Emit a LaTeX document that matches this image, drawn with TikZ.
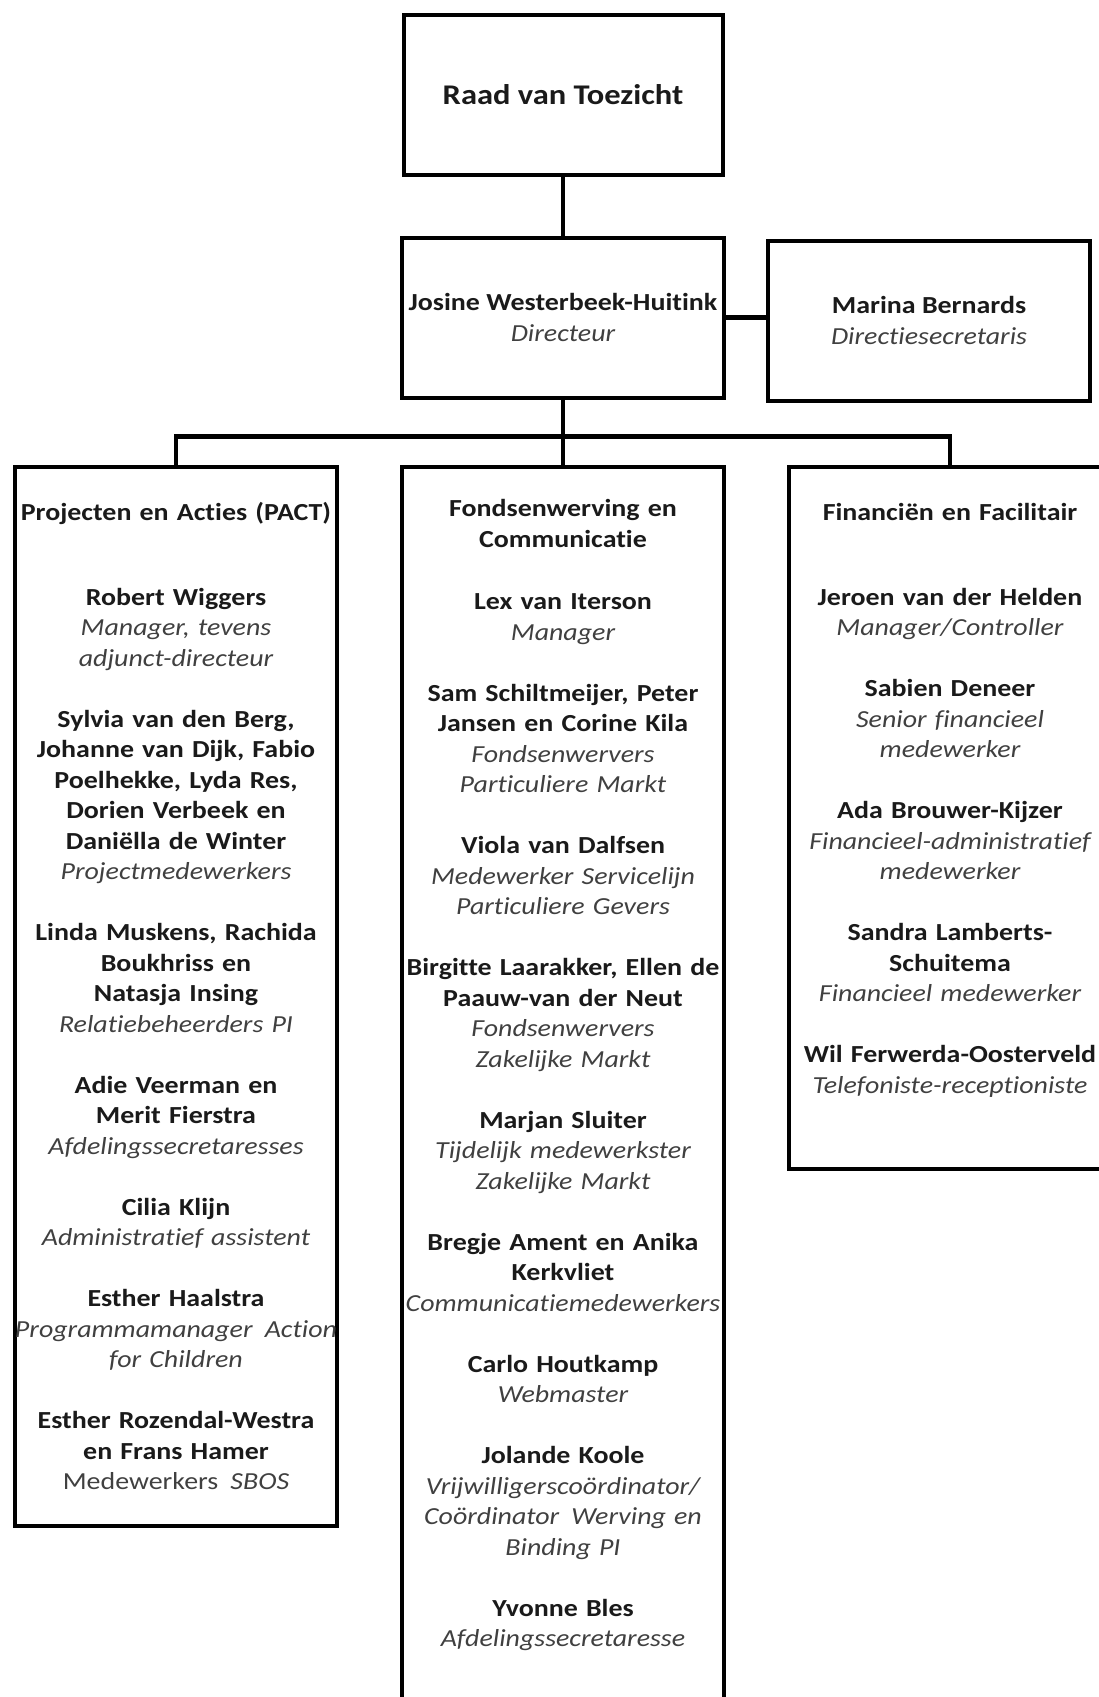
\documentclass[tikz,border=0pt]{standalone}
\usepackage{fontspec}
\setmainfont{Carlito}[FakeStretch=1.14, Ligatures=NoCommon]
\usetikzlibrary{positioning}
\definecolor{namegray}{HTML}{1A1A1A}
\definecolor{rolegray}{HTML}{404040}
\newcommand{\prole}[1]{{\normalfont\itshape\color{rolegray}#1}}

\begin{document}
\begin{tikzpicture}[x=1pt, y=1pt,
        every node/.style={anchor=north, text=namegray,
            font=\fontsize{24.5}{30.5}\selectfont\bfseries},
        box/.style={draw=black, line width=4pt, inner sep=0pt, minimum width=322pt, align=center},
        dept/.style={box, text width=338pt, inner xsep=-8pt, text height=54pt},
        edge from parent/.style={draw=black, line width=4.5pt},
        level 1/.style={level distance=140.5pt},
        level 2/.style={sibling distance=387pt, level distance=147pt,
            edge from parent path={(\tikzparentnode.south) -- +(0,-37) -| (\tikzchildnode.north)}},
    ]
    \useasboundingbox (0,0) rectangle (1099,-1697);
    \node[box, minimum width=319pt, minimum height=160pt,
        font=\fontsize{28.5}{34}\selectfont\bfseries] (a) at (563,-13) {Raad van Toezicht}
        child {node[box, minimum height=160pt] (b) {Josine Westerbeek-Huitink\\ \prole{Directeur}}
            child {node[dept, text depth=1005pt] (c) {Projecten en Acties (PACT)\\[54pt]
                Robert Wiggers\\ \prole{Manager, tevens}\\ \prole{adjunct-directeur}\\[30.5pt]
                Sylvia van den Berg,\\ Johanne van Dijk, Fabio\\ Poelhekke, Lyda Res,\\
                Dorien Verbeek en\\ Daniëlla de Winter\\ \prole{Projectmedewerkers}\\[30.5pt]
                Linda Muskens, Rachida\\ Boukhriss en\\ Natasja Insing\\ \prole{Relatiebeheerders PI}\\[30.5pt]
                Adie Veerman en\\ Merit Fierstra\\ \prole{Afdelingssecretaresses}\\[30.5pt]
                Cilia Klijn\\ \prole{Administratief assistent}\\[30.5pt]
                Esther Haalstra\\ \prole{Programmamanager\hspace{4pt} Action}\\ \prole{for Children}\\[30.5pt]
                Esther Rozendal-Westra\\ en Frans Hamer\\
                {\normalfont\color{rolegray}Medewerkers\hspace{4pt} \textit{SBOS}}}}
            child {node[dept, text height=50pt, text depth=1210pt] (d) {Fondsenwerving en\\ Communicatie\\[32pt]
                Lex van Iterson\\ \prole{Manager}\\[30.5pt]
                Sam Schiltmeijer, Peter\\ Jansen en Corine Kila\\ \prole{Fondsenwervers}\\ \prole{Particuliere Markt}\\[30.5pt]
                Viola van Dalfsen\\ \prole{Medewerker Servicelijn}\\ \prole{Particuliere Gevers}\\[30.5pt]
                Birgitte Laarakker, Ellen de\\ Paauw-van der Neut\\ \prole{Fondsenwervers}\\ \prole{Zakelijke Markt}\\[30.5pt]
                Marjan Sluiter\\ \prole{Tijdelijk medewerkster}\\ \prole{Zakelijke Markt}\\[30.5pt]
                Bregje Ament en Anika\\ Kerkvliet\\ \prole{Communicatiemedewerkers}\\[30.5pt]
                Carlo Houtkamp\\ \prole{Webmaster}\\[30.5pt]
                Jolande Koole\\ \prole{Vrijwilligerscoördinator/}\\ \prole{Coördinator\hspace{4pt} Werving en}\\ \prole{Binding PI}\\[30.5pt]
                Yvonne Bles\\ \prole{Afdelingssecretaresse}}}
            child {node[dept, text depth=648pt] (e) {Financiën en Facilitair\\[54pt]
                Jeroen van der Helden\\ \prole{Manager/Controller}\\[30.5pt]
                Sabien Deneer\\ \prole{Senior financieel}\\ \prole{medewerker}\\[30.5pt]
                Ada Brouwer-Kijzer\\ \prole{Financieel-administratief}\\ \prole{medewerker}\\[30.5pt]
                Sandra Lamberts-\\ Schuitema\\ \prole{Financieel medewerker}\\[30.5pt]
                Wil Ferwerda-Oosterveld\\ \prole{Telefoniste-receptioniste}}}
        };
    \node[box, minimum height=160pt, right=40pt of b, yshift=-3pt] (f) {Marina Bernards\\ \prole{Directiesecretaris}};
    \draw[line width=4.5pt] (b) -- (b -| f.west);
\end{tikzpicture}
\end{document}
